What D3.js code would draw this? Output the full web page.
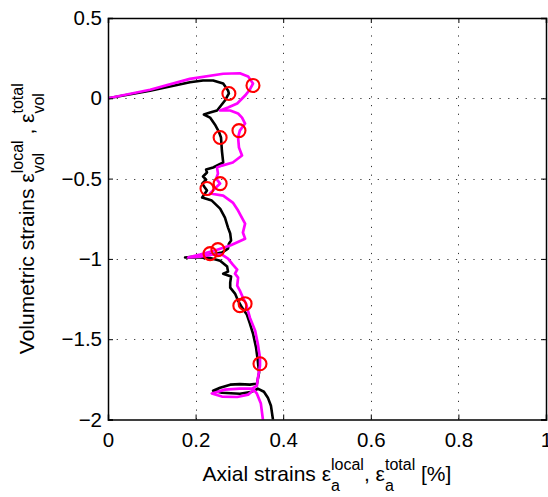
<!DOCTYPE html>
<html><head><meta charset="utf-8">
<script src="https://cdn.jsdelivr.net/npm/d3@7"></script>
<style>body{margin:0;background:#fff}svg{display:block}text{font-family:"Liberation Sans",Arial,Helvetica,sans-serif;fill:#000}</style>
</head><body><div id="chart"></div>
<script>
const xTicks = [0, 0.2, 0.4, 0.6, 0.8, 1];
const yTicks = [-2, -1.5, -1, -0.5, 0, 0.5];
const localX = [0,0.096,0.187,0.217,0.240,0.263,0.274,0.276,0.267,0.249,0.233,0.219,0.233,0.244,0.253,0.258,0.260,0.263,0.240,0.224,0.226,0.217,0.224,0.215,0.221,0.226,0.215,0.237,0.256,0.267,0.274,0.279,0.281,0.276,0.274,0.260,0.221,0.176,0.210,0.233,0.256,0.272,0.274,0.263,0.281,0.279,0.279,0.290,0.297,0.306,0.317,0.324,0.331,0.338,0.342,0.345,0.340,0.324,0.301,0.279,0.256,0.240,0.260,0.301,0.329,0.342,0.356,0.365,0.372,0.377];
const localY = [0,0.047,0.100,0.111,0.111,0.092,0.049,0.030,-0.014,-0.076,-0.089,-0.101,-0.120,-0.163,-0.207,-0.244,-0.325,-0.400,-0.431,-0.444,-0.462,-0.487,-0.506,-0.531,-0.555,-0.574,-0.618,-0.637,-0.687,-0.743,-0.805,-0.842,-0.886,-0.905,-0.936,-0.961,-0.979,-0.991,-0.991,-0.995,-1.011,-1.048,-1.079,-1.092,-1.110,-1.148,-1.179,-1.216,-1.260,-1.303,-1.347,-1.403,-1.465,-1.552,-1.633,-1.708,-1.777,-1.783,-1.780,-1.783,-1.802,-1.821,-1.833,-1.840,-1.827,-1.808,-1.827,-1.864,-1.914,-2.007];
const totalX = [0,0.096,0.187,0.263,0.301,0.320,0.331,0.324,0.313,0.295,0.274,0.256,0.279,0.297,0.306,0.313,0.301,0.297,0.299,0.306,0.285,0.260,0.249,0.251,0.247,0.256,0.244,0.233,0.263,0.285,0.297,0.313,0.308,0.313,0.279,0.244,0.210,0.183,0.210,0.237,0.260,0.274,0.285,0.295,0.290,0.297,0.295,0.301,0.308,0.315,0.324,0.336,0.342,0.347,0.347,0.342,0.340,0.329,0.301,0.267,0.237,0.260,0.295,0.320,0.333,0.340,0.349,0.354];
const totalY = [0,0.053,0.121,0.153,0.156,0.136,0.092,0.055,0.017,-0.032,-0.057,-0.076,-0.076,-0.095,-0.120,-0.157,-0.201,-0.244,-0.307,-0.356,-0.400,-0.419,-0.431,-0.469,-0.500,-0.531,-0.562,-0.593,-0.606,-0.649,-0.699,-0.780,-0.836,-0.874,-0.917,-0.948,-0.973,-0.991,-0.986,-0.973,-0.973,-0.998,-1.036,-1.067,-1.092,-1.117,-1.167,-1.197,-1.241,-1.279,-1.366,-1.447,-1.528,-1.615,-1.665,-1.746,-1.790,-1.808,-1.808,-1.814,-1.838,-1.857,-1.860,-1.845,-1.815,-1.839,-1.901,-2.007];
const markX = [0.331,0.276,0.299,0.256,0.256,0.226,0.251,0.233,0.313,0.301,0.347];
const markY = [0.080,0.030,-0.201,-0.244,-0.531,-0.562,-0.942,-0.967,-1.279,-1.291,-1.653];

const W = 548, H = 497;
const m = {left:108, right:2, top:18, bottom:78};
const svg = d3.select("#chart").append("svg").attr("width", W).attr("height", H);
const x = d3.scaleLinear().domain([0,1]).range([m.left, W - m.right]);
const y = d3.scaleLinear().domain([-2,0.5]).range([H - m.bottom + 0.5, m.top]);
const x0 = x.range()[0], x1 = x.range()[1], y0 = y.range()[0], y1 = y.range()[1];

// grid
const grid = svg.append("g").attr("stroke","#333").attr("stroke-width",1).attr("stroke-dasharray","1.2,7.5");
grid.selectAll("line.gx").data(xTicks.filter(d=>d>0&&d<1)).join("line")
  .attr("x1",d=>Math.round(x(d))+0.5).attr("x2",d=>Math.round(x(d))+0.5).attr("y1",y1).attr("y2",y0);
grid.selectAll("line.gy").data(yTicks.filter(d=>d>-2&&d<0.5)).join("line")
  .attr("y1",d=>Math.round(y(d))+0.5).attr("y2",d=>Math.round(y(d))+0.5).attr("x1",x0).attr("x2",x1);

svg.append("clipPath").attr("id","clip").append("rect").attr("x",x0).attr("y",y1).attr("width",x1-x0).attr("height",y0-y1);

const line = d3.line().x(d=>x(d[0])).y(d=>y(d[1]));
const plot = svg.append("g").attr("clip-path","url(#clip)");
plot.append("path").datum(localX.map((v,i)=>[v,localY[i]])).attr("d",line)
  .attr("fill","none").attr("stroke","#000").attr("stroke-width",2.6).attr("stroke-linejoin","round");
plot.append("path").datum(totalX.map((v,i)=>[v,totalY[i]])).attr("d",line)
  .attr("fill","none").attr("stroke","#ff00ff").attr("stroke-width",2.7).attr("stroke-linejoin","round");
plot.selectAll("circle").data(markX.map((v,i)=>[v,markY[i]])).join("circle")
  .attr("cx",d=>x(d[0])).attr("cy",d=>y(d[1])).attr("r",6.5)
  .attr("fill","none").attr("stroke","#ff0000").attr("stroke-width",2.1);

// axes
const axB = d3.axisBottom(x).tickValues(xTicks).tickSize(-5).tickPadding(13).tickFormat(d3.format("~g"));
const axT = d3.axisTop(x).tickValues(xTicks).tickSize(-5).tickFormat("");
const axL = d3.axisLeft(y).tickValues(yTicks).tickSize(-5).tickPadding(6).tickFormat(d=>d3.format("~g")(d).replace("-","\u2212"));
const axR = d3.axisRight(y).tickValues(yTicks).tickSize(-5).tickFormat("");
function style(g){ g.select(".domain").attr("stroke","#000").attr("stroke-width",1.5);
  g.selectAll(".tick line").attr("stroke","#000");
  g.selectAll(".tick text").attr("font-size",20.5).attr("font-family","Liberation Sans, Arial, sans-serif").attr("fill","#000"); }
svg.append("g").attr("transform",`translate(0,${y0})`).call(axB).call(style);
svg.append("g").attr("transform",`translate(0,${y1})`).call(axT).call(style);
svg.append("g").attr("transform",`translate(${x0},0)`).call(axL).call(style);
svg.append("g").attr("transform",`translate(${x1},0)`).call(axR).call(style);

// rich label: parts = [text, [sup, sub], text, ...]
function rich(t, parts){
  let pendDx = 0, pendDy = 0;
  parts.forEach(p=>{
    if (typeof p === "string") {
      t.append("tspan").attr("dx",pendDx).attr("dy",pendDy).text(p);
      pendDx = 0; pendDy = 0; return;
    }
    const sup = t.append("tspan").attr("dy",-11).attr("font-size",16).text(p[0]);
    const supL = sup.node().getComputedTextLength();
    const sub = t.append("tspan").attr("dx",-supL).attr("dy",21).attr("font-size",16).text(p[1]);
    const subL = sub.node().getComputedTextLength();
    pendDx = Math.max(0, supL - subL); pendDy = -10;
  });
}
const xl = svg.append("text").attr("x",(x0+x1)/2).attr("y",481).attr("text-anchor","middle").attr("font-size",21);
rich(xl, ["Axial strains \u03b5", ["local","a"], ", \u03b5", ["total","a"], " [%]"]);

const yl = svg.append("text").attr("transform",`translate(34,${(y0+y1)/2})rotate(-90)`).attr("text-anchor","middle").attr("font-size",21);
rich(yl, ["Volumetric strains \u03b5", ["local","vol"], " , \u03b5", ["total","vol"]]);
</script></body></html>
